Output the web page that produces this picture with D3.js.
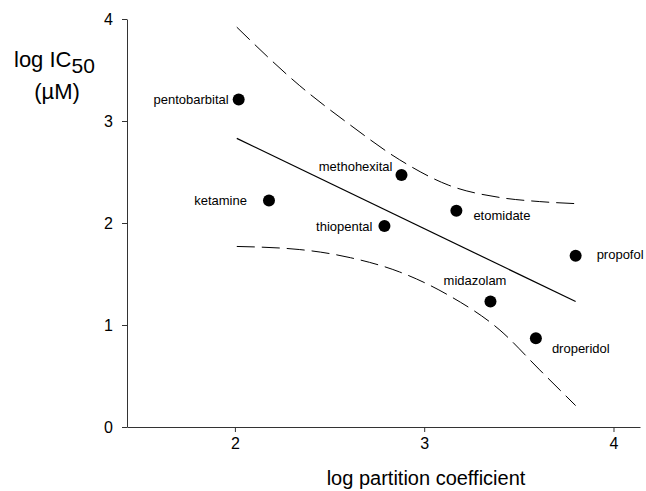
<!DOCTYPE html>
<html>
<head>
<meta charset="utf-8">
<script src="https://cdn.jsdelivr.net/npm/d3@7"></script>
<style>
  body { margin: 0; background: #fff; }
  text { font-family: "Liberation Sans", Arial, sans-serif; fill: #000; }
</style>
</head>
<body>
<div id="chart"></div>
<script>
// Drug data
const drugs = ["pentobarbital", "ketamine", "methohexital", "thiopental", "etomidate", "propofol", "midazolam", "droperidol"];
const logPartition = [2.02, 2.18, 2.88, 2.79, 3.17, 3.80, 3.35, 3.59];
const logIC50 = [3.21, 2.22, 2.47, 1.97, 2.12, 1.68, 1.23, 0.87];

// Regression line and confidence band
const fitX = [2.01, 3.80];
const fitY = [2.83, 1.23];
const bandX = [2.01, 2.34, 2.61, 2.87, 3.13, 3.40, 3.61, 3.80];
const bandUpper = [3.92, 3.35, 2.96, 2.62, 2.37, 2.25, 2.21, 2.19];
const bandLower = [1.77, 1.74, 1.66, 1.52, 1.29, 0.95, 0.56, 0.21];

const xTicks = [2, 3, 4];
const yTicks = [0, 1, 2, 3, 4];

// label placement relative to each dot (dx, dy, anchor)
const labelPos = {
    pentobarbital: [-10, 4.5, "end"],
    ketamine: [-22, 4.5, "end"],
    methohexital: [-9, -4.5, "end"],
    thiopental: [-12, 5, "end"],
    etomidate: [17, 9.5, "start"],
    propofol: [21, 3.5, "start"],
    midazolam: [16, -16.5, "end"],
    droperidol: [16, 14.5, "start"]
};

const width = 646, height = 491;

const svg = d3.select("#chart")
    .append("svg")
    .attr("width", width)
    .attr("height", height);

const x = d3.scaleLinear().domain([1.43, 4.14]).range([127, 640]);
const y = d3.scaleLinear().domain([0, 4]).range([427, 19]);

// Axes
svg.append("g")
    .attr("transform", "translate(0," + y(0) + ")")
    .call(d3.axisBottom(x).tickValues(xTicks).tickFormat(d3.format("d")).tickSize(5).tickSizeOuter(0).tickPadding(6))
    .call(g => g.selectAll("text").style("font-size", "16px"))
    .call(g => g.selectAll("path, line").attr("stroke", "#333"));

svg.append("g")
    .attr("transform", "translate(" + x(1.43) + ",0)")
    .call(d3.axisLeft(y).tickValues(yTicks).tickFormat(d3.format("d")).tickSize(5).tickSizeOuter(0).tickPadding(9))
    .call(g => g.selectAll("text").style("font-size", "16px"))
    .call(g => g.selectAll("path, line").attr("stroke", "#333"));

// Confidence band
const bandLine = d3.line().x(d => x(d[0])).y(d => y(d[1])).curve(d3.curveMonotoneX);

[bandUpper, bandLower].forEach(band => {
    svg.append("path")
        .datum(bandX.map((v, i) => [v, band[i]]))
        .attr("d", bandLine)
        .attr("fill", "none")
        .attr("stroke", "#000")
        .attr("stroke-width", 1)
        .attr("stroke-dasharray", "18,7");
});

// Regression line
svg.append("path")
    .datum(fitX.map((v, i) => [v, fitY[i]]))
    .attr("d", d3.line().x(d => x(d[0])).y(d => y(d[1])))
    .attr("fill", "none")
    .attr("stroke", "#000")
    .attr("stroke-width", 1.2);

// Points
const pts = drugs.map((name, i) => ({name: name, px: logPartition[i], py: logIC50[i]}));

svg.selectAll(".dot")
    .data(pts)
    .enter()
        .append("circle")
        .attr("class", "dot")
        .attr("cx", d => x(d.px))
        .attr("cy", d => y(d.py))
        .attr("r", 6)
        .attr("fill", "#000");

svg.selectAll(".label")
    .data(pts)
    .enter()
        .append("text")
        .attr("class", "label")
        .attr("x", d => x(d.px) + labelPos[d.name][0])
        .attr("y", d => y(d.py) + labelPos[d.name][1])
        .attr("text-anchor", d => labelPos[d.name][2])
        .style("font-size", "13px")
        .text(d => d.name);

// Axis titles
svg.append("text")
    .attr("x", 426)
    .attr("y", 485)
    .attr("text-anchor", "middle")
    .style("font-size", "20px")
    .text("log partition coefficient");

const yt = svg.append("text")
    .attr("x", 14)
    .attr("y", 67)
    .style("font-size", "22px");
yt.append("tspan").text("log IC");
yt.append("tspan").attr("dy", 6).style("font-size", "21px").text("50");

svg.append("text")
    .attr("x", 57)
    .attr("y", 99)
    .attr("text-anchor", "middle")
    .style("font-size", "22px")
    .text("(µM)");
</script>
</body>
</html>
